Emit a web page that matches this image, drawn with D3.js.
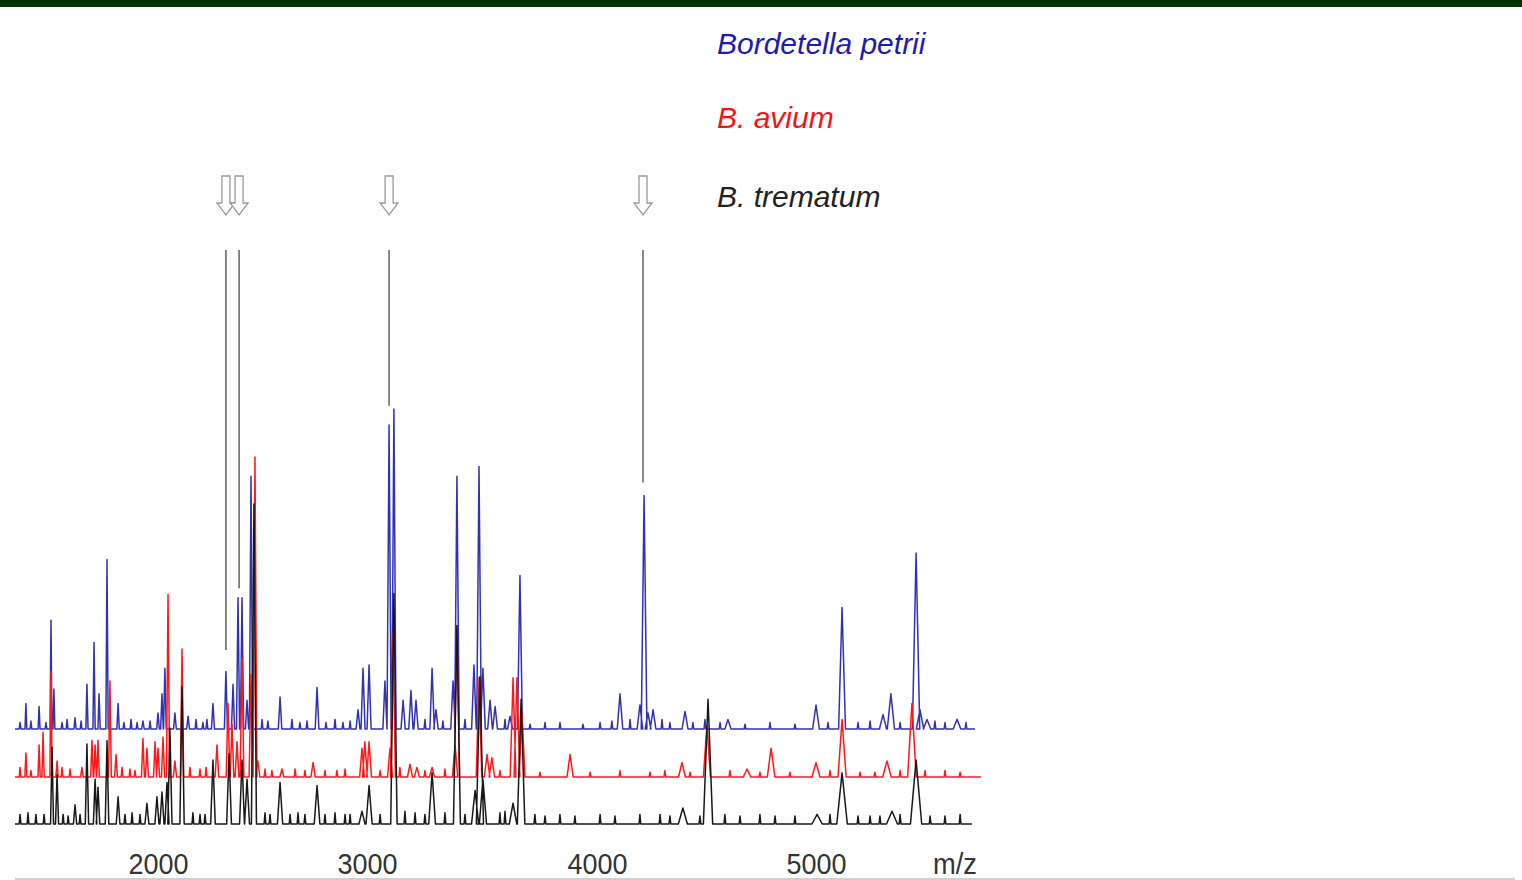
<!DOCTYPE html>
<html>
<head>
<meta charset="utf-8">
<script src="https://cdn.jsdelivr.net/npm/d3@7"></script>
<style>
  html, body { margin: 0; padding: 0; background: #fff; }
  svg { display: block; }
</style>
</head>
<body>
<svg id="chart" width="1522" height="880"></svg>
<script>
// ---------------- DATA ----------------
const seriesNames = ["Bordetella petrii", "B. avium", "B. trematum"];

// m/z tick labels
const tickValues = [2000, 3000, 4000, 5000];
const axisTitle = "m/z";

// m/z extent of each trace
const petriiRange = [1316, 5726];
const aviumRange = [1316, 5753];
const trematumRange = [1316, 5712];

// Bordetella petrii – main peaks (m/z, relative intensity)
const petriiMz  = [1368,1431,1488,1502,1603,1660,1694,1718,1756,1809,1928,2000,2019,2033,2081,2144,2263,2325,2359,2383,2402,2426,2445,2584,2761,2957,2981,3009,3078,3096,3117,3157,3191,3213,3283,3300,3374,3391,3465,3487,3504,3535,3557,3622,3665,4105,4196,4215,4233,4256,4402,4598,5000,5119,5306,5342,5457,5475,5507,5644];
const petriiInt = [8,7,34,12.5,3.5,14,27,11,53,8,2.5,5,11,19,5,4,8,18,14,41,41,9,79,10,13,6,19,20,15,95,100,9,12,9,19,6,15,79,20,82,19,9,7,4,48,11,7.5,73,5,6,5.5,3,7.5,38,4.5,11,55,6,3,3];
// minor peaks / noise bumps
const petriiMinorMz  = [1340,1392,1464,1541,1565,1632,1837,1871,1900,1962,2182,2215,2234,2498,2526,2641,2679,2713,2804,2847,2885,2919,3252,3330,3426,3600,3709,3774,3839,3939,4014,4068,4151,4297,4333,4438,4493,4562,4676,4790,4904,5055,5192,5247,5384,5543,5589,5685];
const petriiMinorInt = [2,2.5,2,2,3,2.5,2,3,2,2.5,3,2,3,3,2.5,3,2,2.5,2,3,2,2.5,3,2.5,3,3,1.5,2,2,1.5,2,2.5,3,3,2,2,3,2,1.5,2,1.5,2,2,2.5,2,2.5,2,2];

// B. avium – main peaks
const aviumMz  = [1368,1431,1450,1488,1517,1636,1684,1699,1713,1770,1799,1928,1947,1986,2000,2024,2048,2081,2115,2282,2335,2354,2378,2402,2445,2464,2478,2593,2742,2976,2990,3009,3100,3113,3187,3217,3283,3383,3391,3487,3522,3543,3635,3652,3674,3883,4388,4502,4685,4795,5000,5119,5324,5438];
const aviumInt = [7.5,10,14,33,5,3,11.5,10,11.5,30,7,12,9,11,9,12.5,57,5,40,10,23,16.5,11,37,32,100,5,2.5,4.5,9,11,11,9,45,4,3,3,10,47,31,7,6,31,31,20,7,4.5,16,2.5,9,4.5,18,5,23];
const aviumMinorMz  = [1340,1392,1541,1579,1828,1866,1890,2153,2201,2230,2512,2545,2656,2703,2799,2856,2895,3057,3143,3252,3339,3578,3752,3970,4105,4242,4310,4425,4607,4744,4881,5064,5201,5269,5384,5498,5589,5658];
const aviumMinorInt = [3,2,3,2.5,3,2.5,2,3,2.5,3,2.5,2,2.5,2,2,2,2.5,2,3,2,2.5,2,1.5,1.5,2,1.5,2,1.5,2,1.5,1.5,2,1.5,1.5,2,2,2,1.5];

// B. trematum – main peaks
const trematumMz  = [1493,1517,1603,1660,1699,1713,1756,1809,1947,1995,2019,2043,2057,2115,2263,2340,2402,2426,2459,2584,2761,2976,3009,3117,3283,3391,3470,3491,3504,3635,3670,4392,4507,5005,5119,5347,5457];
const trematumInt = [24,15.5,6,25,14,11.5,26,8.5,6.5,8.5,10,13,30,43,20,22,20,14,100,13,12,4,12,72,16,62,10.5,46,14,6.5,39,5,39,3,16,4,20];
const trematumMinorMz  = [1340,1378,1416,1455,1546,1570,1627,1842,1876,1914,2167,2201,2225,2512,2536,2632,2670,2703,2799,2847,2895,2919,3057,3165,3209,3252,3339,3426,3578,3600,3730,3774,3839,3904,4014,4082,4196,4288,4333,4470,4584,4653,4744,4813,4904,5064,5192,5247,5292,5384,5521,5589,5658];
const trematumMinorInt = [3,3.5,3,3,3,2.5,3,3,3.5,3,3.5,3,3,3.5,3,3,3.5,3,3,3.5,3,3,3,4,3.5,3,3.5,3,3.5,4,3,2.5,3,2.5,3,2.5,3,3,2.5,2.5,3,2.5,3,2.5,2.5,3,2.5,2.5,2.5,3,2.5,2.5,3];

// marked peaks (arrows) and the top of their guide lines (same intensity scale)
const markerMz  = [2325, 2388, 3096, 4210];
const markerLineEnd = [24.7, 44, 101, 77];

// ---------------- LAYOUT / STYLE ----------------
const svg = d3.select("#chart");
const W = 1522, H = 880;

svg.append("rect").attr("x", 0).attr("y", 0).attr("width", W).attr("height", 7).attr("fill", "#013001");

const x = d3.scaleLinear()
  .domain([2000, 3000, 4000, 5000, 6000])
  .range([158, 367, 597, 816, 1035]);

const y = d3.scaleLinear().domain([0, 100]).range([0, -320]);

const series = [
  { name: seriesNames[0], range: petriiRange, mz: petriiMz, it: petriiInt, mmz: petriiMinorMz, mit: petriiMinorInt, base: 729, color: "#3131b4", text: "#1c1cb0", wf: 0.85 },
  { name: seriesNames[1], range: aviumRange, mz: aviumMz, it: aviumInt, mmz: aviumMinorMz, mit: aviumMinorInt, base: 777, color: "#ff1818", text: "#f31414", wf: 1.0 },
  { name: seriesNames[2], range: trematumRange, mz: trematumMz, it: trematumInt, mmz: trematumMinorMz, mit: trematumMinorInt, base: 824, color: "#181818", text: "#222222", wf: 1.3 }
];

const line = d3.line().x(d => d[0]).y(d => y(d[1])).curve(d3.curveLinear);

series.forEach(s => {
  const peaks = s.mz.map((m, i) => [m, s.it[i], false])
    .concat(s.mmz.map((m, i) => [m, s.mit[i], true]))
    .sort((a, b) => a[0] - b[0]);
  const pts = [[x(s.range[0]), 0]];
  peaks.forEach(p => {
    const px = x(p[0]);
    const w = p[2] ? 0.9 : (1 + (p[0] - 1300) * 0.0008) * s.wf;
    pts.push([px - w, 0], [px, p[1]], [px + w, 0]);
  });
  pts.push([x(s.range[1]), 0]);
  svg.append("g")
    .attr("transform", `translate(0,${s.base})`)
    .append("path")
    .attr("d", line(pts))
    .attr("fill", "none")
    .attr("stroke", s.color)
    .attr("stroke-width", 1.5)
    .attr("stroke-linejoin", "round");
});

// legend labels
const legendY = [54, 128, 207];
series.forEach((s, i) => {
  svg.append("text")
    .attr("x", 717).attr("y", legendY[i])
    .attr("font-family", "Liberation Sans, Arial, sans-serif")
    .attr("font-style", "italic")
    .attr("font-size", 30)
    .attr("fill", s.text)
    .text(s.name);
});

// marker guide lines and hollow arrows
const blueBase = series[0].base;
markerMz.forEach((m, i) => {
  const px = x(m);
  svg.append("line")
    .attr("x1", px).attr("x2", px)
    .attr("y1", 250).attr("y2", blueBase + y(markerLineEnd[i]))
    .attr("stroke", "#6a6a6a").attr("stroke-width", 1.6);
  const ay = 176, sh = 4, hw = 9, shaftEnd = 203, tip = 215;
  const ptsA = [[px - sh, ay], [px + sh, ay], [px + sh, shaftEnd], [px + hw, shaftEnd], [px, tip], [px - hw, shaftEnd], [px - sh, shaftEnd]];
  svg.append("path")
    .attr("d", d3.line()(ptsA) + "Z")
    .attr("fill", "#fff")
    .attr("stroke", "#9a9a9a")
    .attr("stroke-width", 1.3)
    .attr("stroke-linejoin", "miter");
});

// x axis
const axisG = svg.append("g").attr("transform", "translate(0,850)")
  .call(d3.axisBottom(x).tickValues(tickValues).tickSize(0).tickPadding(0).tickFormat(d3.format("d")));
axisG.select(".domain").remove();
axisG.selectAll("text")
  .attr("y", 24).attr("dy", 0)
  .attr("font-family", "Liberation Sans, Arial, sans-serif")
  .attr("font-size", 29)
  .attr("textLength", 60)
  .attr("lengthAdjust", "spacingAndGlyphs")
  .attr("fill", "#333");

svg.append("text")
  .attr("x", 955).attr("y", 874)
  .attr("text-anchor", "middle")
  .attr("font-family", "Liberation Sans, Arial, sans-serif")
  .attr("font-size", 29)
  .attr("textLength", 44)
  .attr("lengthAdjust", "spacingAndGlyphs")
  .attr("fill", "#333")
  .text(axisTitle);

svg.append("line")
  .attr("x1", 15).attr("x2", 1515)
  .attr("y1", 879).attr("y2", 879)
  .attr("stroke", "#cfcfcf").attr("stroke-width", 2);
</script>
</body>
</html>
